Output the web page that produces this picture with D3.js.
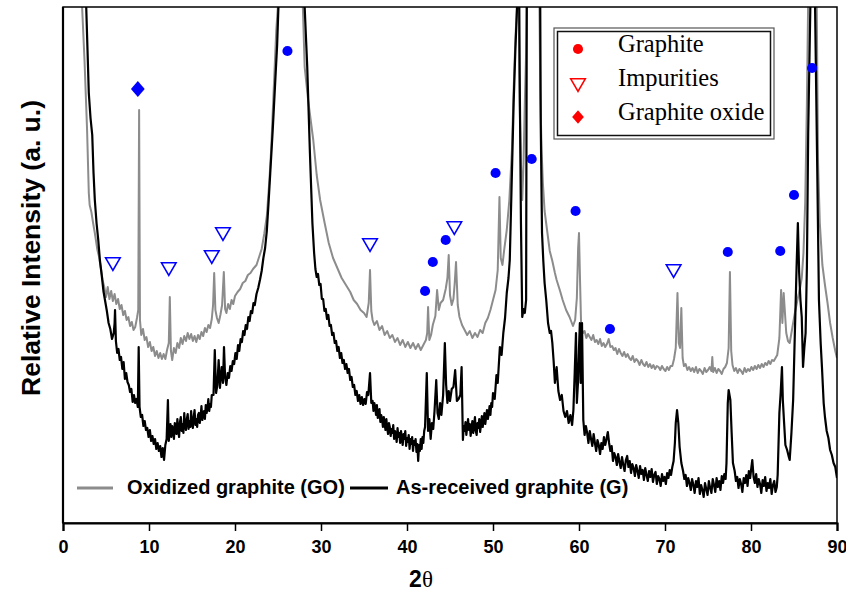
<!DOCTYPE html>
<html>
<head>
<meta charset="utf-8">
<script src="https://cdn.jsdelivr.net/npm/d3@7/dist/d3.min.js"></script>
<style>
body{margin:0;background:#fff;}
svg{display:block;}
.tick text{font-family:Arial,"Liberation Sans",sans-serif;font-weight:bold;font-size:18px;fill:#000;}
</style>
</head>
<body>
<div id="chart"></div>
<script>
var w = 846;
var h = 592;
var padLeft = 63, padRight = 837, padTop = 7, padBottom = 523;

var thetaMin = 0;
var thetaMax = 90;
var intensityMax = 516; // a.u., top of the frame
var xTicks = [0, 10, 20, 30, 40, 50, 60, 70, 80, 90];

// oxidized graphite (GO), [2theta, intensity]
var goData = [[2.0,560],[2.2,520],[2.5,463],[2.8,393],[3.0,330],[3.1,318],[3.3,311],[3.5,300],[3.7,290],[4.0,273],[4.2,266],[4.4,255],[4.6,243],[4.8,236],[5.0,226],[5.2,236],[5.4,224],[5.6,232],[5.8,222],[6.0,229],[6.2,219],[6.4,224],[6.6,214],[6.8,218],[7.0,208],[7.2,212],[7.4,203],[7.6,206],[7.8,197],[8.0,201],[8.2,193],[8.4,196],[8.6,205],[8.75,213],[8.85,413],[8.95,203],[9.1,188],[9.3,194],[9.5,183],[9.7,186],[9.9,176],[10.1,181],[10.3,172],[10.5,176],[10.7,167],[10.9,172],[11.1,165],[11.3,170],[11.5,164],[11.7,169],[11.9,164],[12.1,173],[12.3,180],[12.42,226],[12.55,172],[12.7,163],[12.9,175],[13.1,170],[13.3,180],[13.5,175],[13.7,185],[13.9,179],[14.1,187],[14.3,182],[14.5,190],[14.7,184],[14.9,189],[15.1,182],[15.3,187],[15.5,181],[15.7,188],[15.9,184],[16.1,191],[16.3,187],[16.5,195],[16.7,191],[16.9,198],[17.1,195],[17.3,204],[17.45,218],[17.58,250],[17.72,213],[17.9,205],[18.1,200],[18.3,208],[18.5,218],[18.7,251],[18.85,214],[19.0,210],[19.2,219],[19.4,214],[19.6,223],[19.8,219],[20.0,227],[20.3,231],[20.6,234],[20.9,240],[21.2,242],[21.5,248],[21.8,250],[22.1,254],[22.5,258],[22.8,266],[23.1,274],[23.4,289],[23.7,307],[24.0,343],[24.2,373],[24.4,413],[24.6,453],[24.8,493],[25.0,518],[25.2,560],[27.7,560],[27.9,513],[28.1,456],[28.5,423],[29.1,383],[29.5,348],[29.9,323],[30.4,301],[30.9,280],[31.4,265],[31.9,255],[32.4,245],[32.9,238],[33.4,231],[33.8,223],[34.2,219],[34.6,213],[35.0,210],[35.3,206],[35.55,220],[35.7,253],[35.85,212],[36.0,203],[36.2,198],[36.5,202],[36.8,193],[37.1,197],[37.4,188],[37.7,192],[38.0,185],[38.3,188],[38.6,181],[38.9,185],[39.2,178],[39.5,183],[39.8,176],[40.1,181],[40.4,175],[40.7,180],[41.0,174],[41.3,179],[41.6,173],[41.9,178],[42.2,183],[42.35,190],[42.45,216],[42.6,183],[42.8,188],[43.0,198],[43.3,207],[43.5,233],[43.7,213],[43.9,220],[44.2,223],[44.5,234],[44.7,245],[44.85,268],[45.0,228],[45.2,218],[45.4,224],[45.55,240],[45.7,261],[45.9,218],[46.1,206],[46.4,198],[46.7,193],[47.0,188],[47.3,192],[47.6,185],[47.9,190],[48.2,186],[48.5,193],[48.8,190],[49.1,200],[49.4,205],[49.7,213],[50.0,223],[50.3,233],[50.55,253],[50.75,326],[50.9,265],[51.1,258],[51.3,273],[51.6,293],[51.9,323],[52.2,373],[52.4,433],[52.6,483],[52.8,520],[52.95,560],[53.1,420],[53.25,360],[53.4,323],[53.55,360],[53.7,420],[53.85,470],[54.0,560],[55.35,560],[55.5,430],[55.65,373],[55.8,340],[56.0,312],[56.3,292],[56.6,272],[56.9,262],[57.2,250],[57.4,243],[57.8,232],[58.1,223],[58.5,213],[58.9,206],[59.3,197],[59.55,203],[59.75,225],[59.9,275],[60.0,290],[60.1,250],
  [60.25,196],[60.45,190],[60.65,192],[60.85,185],[61.05,189],[61.25,186],[61.45,183],[61.65,188],[61.85,181],[62.05,183],[62.25,179],[62.45,184],[62.65,177],[62.85,180],[63.05,176],[63.25,179],[63.45,184],[63.65,176],[63.85,177],[64.05,173],[64.25,175],[64.45,169],[64.65,174],[64.85,170],[65.05,167],[65.25,171],[65.45,166],[65.65,169],[65.85,165],[66.05,163],[66.25,167],[66.45,161],[66.65,164],[66.85,162],[67.05,158],[67.25,163],[67.45,159],[67.65,157],[67.85,161],[68.05,156],[68.25,159],[68.45,155],[68.65,158],[68.85,154],[69.05,157],[69.25,156],[69.45,153],[69.65,157],[69.85,154],[70.05,152],[70.25,156],[70.45,153],[70.65,157],[70.85,157],[71.05,164],
  [71.25,175],[71.45,230],[71.6,180],[71.75,175],[71.9,215],
  [72.05,165],[72.2,157],[72.4,159],[72.6,153],[72.8,156],[73.0,152],[73.2,155],[73.4,151],[73.6,156],[73.8,150],[74.0,154],[74.2,152],[74.4,149],[74.6,155],[74.8,151],[75.0,153],[75.2,156],[75.4,152],[75.5,166],[75.6,151],[75.8,155],[76.0,150],[76.2,154],[76.4,152],[76.6,149],[76.8,154],[77.0,156],[77.2,160],
  [77.4,175],[77.55,251],[77.7,172],
  [77.85,158],[78.05,152],[78.25,155],[78.45,150],[78.65,154],[78.85,152],[79.05,149],[79.25,155],[79.45,151],[79.65,154],[79.85,152],[80.05,156],[80.25,153],[80.45,157],[80.65,154],[80.85,158],[81.05,155],[81.25,159],[81.45,156],[81.65,160],[81.85,158],[82.05,162],[82.25,159],[82.45,163],[82.65,162],[82.85,165],[83.05,168],
  [83.3,185],[83.5,233],[83.65,200],[83.8,230],[83.95,210],[84.1,190],[84.3,182],[84.5,180],[84.8,195],[85.1,210],[85.4,223],[85.7,235],[85.9,245],[86.1,270],[86.3,320],[86.5,420],[86.7,560],[87.6,560],[87.8,360],[88.0,300],[88.3,258],[88.6,238],[88.9,220],[89.2,200],[89.5,185],[89.8,172],[90.0,165]];

// as-received graphite (G), [2theta, intensity]
var gData = [[2.0,620],[2.5,560],[2.7,516],[2.85,473],[3.0,430],[3.2,405],[3.4,388],[3.55,350],[3.7,323],[3.9,300],[4.1,283],[4.3,262],[4.5,248],[4.7,232],[4.9,222],[5.1,212],[5.3,200],[5.5,194],[5.7,184],[5.9,190],[6.0,200],[6.05,213],
  [6.15,182],[6.3,170],[6.45,174],[6.6,163],[6.75,166],[6.9,154],[7.05,161],[7.2,144],[7.35,150],[7.5,141],[7.65,138],[7.8,131],[7.95,134],[8.1,121],[8.25,128],[8.4,120],[8.55,124],[8.7,116],[8.8,176],[8.9,116],[9.05,106],[9.2,108],[9.35,97],[9.5,102],[9.65,93],[9.8,95],[9.95,86],[10.1,93],[10.25,82],[10.4,87],[10.55,79],[10.7,84],[10.85,74],[11.0,80],[11.15,72],[11.3,77],[11.45,66],[11.6,75],[11.75,63],[11.9,78],[12.05,84],[12.2,123],[12.3,82],
  [12.4,90],[12.5,99],[12.6,86],[12.7,97],[12.8,93],[12.9,84],[13.0,100],[13.1,95],[13.2,89],[13.3,104],[13.4,92],[13.5,86],[13.6,101],[13.7,106],[13.8,92],[13.9,99],[14.0,90],[14.1,110],[14.2,97],[14.3,93],[14.4,104],[14.5,109],[14.6,94],[14.7,102],[14.8,96],[14.9,112],[15.0,99],[15.1,95],[15.2,106],[15.3,113],[15.4,98],[15.5,104],[15.6,96],[15.7,108],[15.8,110],[15.9,100],[16.0,106],[16.1,117],[16.2,103],[16.3,109],[16.4,112],[16.5,104],[16.6,118],[16.7,110],[16.8,115],[16.9,124],[17.0,112],[17.1,119],[17.2,116],[17.3,128],
  [17.5,128],[17.65,173],[17.8,130],[17.95,138],[18.1,163],[18.25,135],[18.45,156],[18.6,140],[18.72,176],
  [18.85,146],[19.0,138],[19.15,150],[19.3,145],[19.45,157],[19.6,152],[19.75,162],[19.9,159],[20.05,170],[20.2,164],[20.35,178],[20.5,172],[20.65,184],[20.8,181],[20.95,192],[21.1,188],[21.25,198],[21.4,194],[21.55,206],[21.7,202],[21.85,212],[22.0,210],[22.15,220],[22.3,218],[22.5,229],[22.7,235],[22.9,243],[23.1,252],
  [23.3,265],[23.5,275],[23.7,292],[23.9,320],[24.1,350],[24.4,395],[24.7,445],[24.9,478],[25.05,516],[25.3,600],[27.8,600],[28.1,516],[28.4,456],[28.7,373],
  [29.0,300],[29.2,270],[29.35,254],[29.5,246],[29.65,249],[29.8,238],[29.95,239],[30.1,224],[30.25,224],[30.4,212],[30.55,214],[30.7,204],[30.85,208],[31.0,197],[31.15,198],[31.3,188],[31.45,190],[31.6,180],[31.75,182],[31.9,172],[32.05,176],[32.2,165],[32.35,170],[32.5,160],[32.65,163],[32.8,154],[32.95,159],[33.1,150],[33.25,154],[33.4,143],[33.55,146],[33.7,136],[33.85,138],[34.0,128],[34.15,132],[34.3,122],[34.45,128],[34.6,119],[34.75,126],[34.9,118],[35.05,124],[35.2,119],[35.35,131],[35.5,128],[35.7,150],[35.85,120],
  [36.0,122],[36.1,112],[36.2,120],[36.3,116],[36.4,108],[36.5,118],[36.6,105],[36.7,110],[36.8,114],[36.9,101],[37.0,108],[37.1,104],[37.2,96],[37.3,106],[37.4,99],[37.5,93],[37.6,104],[37.7,95],[37.8,89],[37.9,100],[38.0,96],[38.1,87],[38.2,94],[38.3,90],[38.4,98],[38.5,84],[38.6,92],[38.7,88],[38.8,81],[38.9,95],[39.0,86],[39.1,90],[39.2,80],[39.3,92],[39.4,85],[39.5,78],[39.6,89],[39.7,84],[39.8,92],[39.9,77],[40.0,85],[40.1,81],[40.2,88],[40.3,74],[40.4,84],[40.5,79],[40.6,86],[40.7,72],[40.8,82],[40.9,78],[41.0,84],[41.1,71],[41.2,79],[41.3,62],[41.4,78],[41.5,72],[41.6,84],[41.7,74],[41.8,86],[41.9,80],[42.0,92],[42.1,96],
  [42.3,150],[42.45,92],[42.6,104],[42.75,84],[42.9,100],[43.05,94],[43.2,112],[43.4,143],[43.55,110],[43.7,104],[43.85,120],[44.0,108],[44.2,128],[44.4,180],[44.55,138],[44.7,120],[44.85,132],[45.0,122],[45.2,134],[45.4,136],[45.6,153],[45.8,122],[46.0,124],[46.2,128],[46.35,156],
  [46.5,83],[46.6,97],[46.7,92],[46.8,101],[46.9,88],[47.0,96],[47.1,104],[47.2,93],[47.3,99],[47.4,87],[47.5,95],[47.6,102],[47.7,90],[47.8,97],[47.9,106],[48.0,92],[48.1,88],[48.2,100],[48.3,95],[48.4,104],[48.5,91],[48.6,98],[48.7,107],[48.8,96],[48.9,102],[49.0,110],[49.1,99],[49.2,106],[49.3,113],[49.4,104],[49.5,109],[49.6,117],[49.7,108],[49.8,120],[49.9,116],[50.0,130],
  [50.2,124],[50.4,148],[50.55,140],[50.8,176],[51.0,168],[51.2,190],[51.4,205],[51.6,230],[51.8,245],[51.95,263],[52.2,350],[52.4,420],[52.6,473],[52.8,516],[53.0,600],[53.1,450],[53.25,300],[53.4,206],[53.55,214],[53.7,210],[53.85,223],[53.95,600],[55.45,600],[55.55,400],[55.7,290],[55.85,262],[56.0,240],[56.2,222],[56.4,200],[56.6,190],[56.75,192],[56.9,180],[57.05,162],[57.2,140],[57.4,156],[57.6,132],[57.8,123],[58.0,128],[58.2,112],[58.4,106],[58.6,112],[58.8,100],[59.0,108],[59.2,98],[59.35,113],[59.5,150],[59.65,190],[59.75,120],[59.9,143],[60.0,175],[60.1,200],[60.2,140],[60.35,200],
  [60.5,103],[60.65,88],[60.8,97],[60.95,90],[61.1,80],[61.25,92],[61.4,84],[61.55,77],[61.7,89],[61.85,80],[62.0,72],[62.15,83],[62.3,78],[62.45,69],[62.6,80],[62.75,74],[62.9,86],[63.05,78],[63.2,84],[63.35,91],[63.5,80],[63.65,72],[63.8,77],[63.95,62],[64.1,70],[64.25,66],[64.4,58],[64.55,69],[64.7,61],[64.85,55],[65.0,66],[65.15,58],[65.3,52],[65.45,63],[65.6,67],[65.75,56],[65.9,62],[66.05,50],[66.2,59],[66.35,55],[66.5,47],[66.65,58],[66.8,52],[66.95,45],[67.1,57],[67.25,49],[67.4,53],[67.55,43],[67.7,55],[67.85,48],[68.0,42],[68.15,52],[68.3,46],[68.45,54],[68.6,41],[68.75,48],[68.9,51],[69.05,39],[69.2,47],[69.35,44],[69.5,37],[69.65,49],[69.8,42],[69.95,46],[70.1,39],[70.25,50],[70.4,45],[70.55,53],[70.7,48],[70.85,56],[71.0,62],
  [71.15,80],[71.25,100],[71.4,113],[71.55,100],[71.7,76],[71.9,60],
  [72.1,52],[72.25,44],[72.4,48],[72.55,37],[72.7,45],[72.85,40],[73.0,33],[73.15,44],[73.3,38],[73.45,30],[73.6,42],[73.75,36],[73.9,45],[74.05,29],[74.2,38],[74.35,33],[74.5,26],[74.65,40],[74.8,34],[74.95,28],[75.1,42],[75.25,35],[75.4,30],[75.55,44],[75.7,38],[75.85,31],[76.0,45],[76.15,36],[76.3,42],[76.45,33],[76.6,47],[76.75,40],[76.9,49],[77.05,44],[77.15,60],
  [77.3,120],[77.4,133],[77.6,123],[77.75,90],[77.9,60],
  [78.1,52],[78.25,42],[78.4,46],[78.55,35],[78.7,44],[78.85,39],[79.0,31],[79.15,45],[79.3,40],[79.45,48],[79.6,37],[79.75,52],[79.9,45],[80.05,56],[80.15,63],[80.3,46],[80.45,40],[80.6,49],[80.75,36],[80.9,44],[81.05,39],[81.2,30],[81.35,43],[81.5,37],[81.65,46],[81.8,32],[81.95,40],[82.1,35],[82.25,44],[82.4,29],[82.55,38],[82.7,42],[82.85,31],[83.0,36],[83.1,48],
  [83.3,110],[83.45,130],[83.6,156],[83.7,123],[83.85,100],[84.0,78],[84.2,73],[84.4,66],[84.5,63],[84.7,90],[84.9,123],[85.1,190],[85.3,256],[85.45,300],[85.6,250],[85.75,223],[85.9,206],[86.05,156],[86.2,175],[86.35,190],[86.5,256],[86.65,390],[86.9,516],[87.0,620],[87.3,620],[87.45,516],[87.7,356],[87.9,223],[88.1,180],[88.25,156],[88.45,120],[88.6,106],[88.8,92],[89.0,85],[89.2,73],[89.4,68],[89.6,60],[89.8,56],[90.0,45]];

// peak markers, [2theta, intensity]
var graphitePeaks = [[26.1,472],[42.1,232],[43.0,261],[44.5,283],[50.3,350],[54.5,364],[59.6,312],[63.6,194],[77.3,271],[83.4,272],[85.0,328],[87.1,455]];
var impurityPeaks = [[5.8,261],[12.3,256],[17.3,268],[18.6,291],[35.7,280],[45.5,297],[71.0,254]];
var oxidePeaks = [[8.7,434]];

var legendNames = ["Graphite", "Impurities", "Graphite oxide"];
var seriesNames = ["Oxidized graphite (GO)", "As-received graphite (G)"];
var seriesColors = ["#8c8c8c", "#000000"];

var xScale = d3.scaleLinear().domain([thetaMin, thetaMax]).range([padLeft, padRight]);
var yScale = d3.scaleLinear().domain([0, intensityMax]).range([padBottom, padTop]);

var diamond = {draw: function(ctx, size){
  var r = Math.sqrt(size) / 2;
  ctx.moveTo(0, -r * 1.15); ctx.lineTo(r, 0); ctx.lineTo(0, r * 1.15); ctx.lineTo(-r, 0); ctx.closePath();
}};
var circleSym = d3.symbol().type(d3.symbolCircle).size(80);
var triSym = d3.symbol().type(d3.symbolTriangle).size(92);
var diaSym = d3.symbol().type(diamond).size(190);

var svg = d3.select("#chart").append("svg").attr("width", w).attr("height", h);

svg.append("clipPath").attr("id", "plotclip")
  .append("rect").attr("x", padLeft).attr("y", padTop).attr("width", padRight - padLeft).attr("height", padBottom - padTop);

var line = d3.line()
  .x(function(d){ return xScale(d[0]); })
  .y(function(d){ return yScale(d[1]); });

var curves = svg.append("g").attr("clip-path", "url(#plotclip)");
curves.append("path").datum(goData)
  .attr("d", line).attr("fill", "none").attr("stroke", seriesColors[0])
  .attr("stroke-width", 2).attr("stroke-linejoin", "round");
curves.append("path").datum(gData)
  .attr("d", line).attr("fill", "none").attr("stroke", seriesColors[1])
  .attr("stroke-width", 2.2).attr("stroke-linejoin", "round");

// blue peak markers
svg.selectAll(".gpk").data(graphitePeaks).enter().append("path")
  .attr("class", "gpk").attr("d", circleSym).attr("fill", "#0000ff")
  .attr("transform", function(d){ return "translate(" + xScale(d[0]) + "," + yScale(d[1]) + ")"; });
svg.selectAll(".ipk").data(impurityPeaks).enter().append("path")
  .attr("class", "ipk").attr("d", triSym).attr("fill", "#fff").attr("stroke", "#0000ff").attr("stroke-width", 1.6)
  .attr("transform", function(d){ return "translate(" + xScale(d[0]) + "," + yScale(d[1]) + ") rotate(180)"; });
svg.selectAll(".opk").data(oxidePeaks).enter().append("path")
  .attr("class", "opk").attr("d", diaSym).attr("fill", "#0000ff")
  .attr("transform", function(d){ return "translate(" + xScale(d[0]) + "," + yScale(d[1]) + ")"; });

// frame
svg.append("rect").attr("x", padLeft).attr("y", padTop).attr("width", padRight - padLeft).attr("height", padBottom - padTop)
  .attr("fill", "none").attr("stroke", "#000").attr("stroke-width", 1.5);
svg.append("line").attr("x1", padLeft).attr("x2", padLeft).attr("y1", padTop).attr("y2", padBottom)
  .attr("stroke", "#000").attr("stroke-width", 2.2);

var xAxis = svg.append("g").attr("transform", "translate(0," + padBottom + ")")
  .call(d3.axisBottom(xScale).tickValues(xTicks).tickSize(8).tickPadding(9).tickFormat(d3.format("d")));
xAxis.select(".domain").attr("stroke-width", 2.2);
xAxis.selectAll(".tick line").attr("stroke-width", 1.5);
xAxis.selectAll("text").attr("font-family", null).attr("font-size", null);

// axis titles
var xt = svg.append("text").attr("x", 421).attr("y", 587).attr("text-anchor", "middle")
  .style("font-family", "Arial, 'Liberation Sans', sans-serif").style("font-weight", "bold").style("font-size", "23px");
xt.append("tspan").text("2");
xt.append("tspan").style("font-family", "'Times New Roman', 'Liberation Serif', serif").style("font-weight", "normal").text("θ");

svg.append("text")
  .attr("transform", "translate(40,248) rotate(-90)")
  .attr("text-anchor", "middle")
  .style("font-family", "Arial, 'Liberation Sans', sans-serif").style("font-weight", "bold").style("font-size", "26.5px")
  .text("Relative Intensity (a. u.)");

// marker legend box
var lg = svg.append("g").attr("transform", "translate(554,28)");
lg.append("rect").attr("width", 220).attr("height", 111).attr("fill", "#fff").attr("stroke", "#555").attr("stroke-width", 1.2);
lg.append("rect").attr("x", 3.5).attr("y", 3.5).attr("width", 213).attr("height", 104).attr("fill", "none").attr("stroke", "#111").attr("stroke-width", 1.5);
var legendSyms = [circleSym, triSym, diaSym];
legendNames.forEach(function(name, i){
  var cy = 21 + i * 34;
  lg.append("path").attr("d", legendSyms[i])
    .attr("fill", i === 1 ? "#fff" : "#ff0000").attr("stroke", i === 1 ? "#ff0000" : "none").attr("stroke-width", 1.6)
    .attr("transform", "translate(24," + cy + ")" + (i === 1 ? " rotate(180)" : "") + (i === 2 ? " scale(0.85)" : ""));
  lg.append("text").attr("x", 64).attr("y", cy + 3)
    .style("font-family", "'Times New Roman', 'Liberation Serif', serif").style("font-size", "24.5px")
    .text(name);
});

// series legend
var sx = [[77, 113, 127], [350, 388, 396]];
seriesNames.forEach(function(name, i){
  svg.append("line").attr("x1", sx[i][0]).attr("x2", sx[i][1]).attr("y1", 488).attr("y2", 488)
    .attr("stroke", seriesColors[i]).attr("stroke-width", 3);
  svg.append("text").attr("x", sx[i][2]).attr("y", 494)
    .style("font-family", "Arial, 'Liberation Sans', sans-serif").style("font-weight", "bold").style("font-size", "20px")
    .text(name);
});
</script>
</body>
</html>
